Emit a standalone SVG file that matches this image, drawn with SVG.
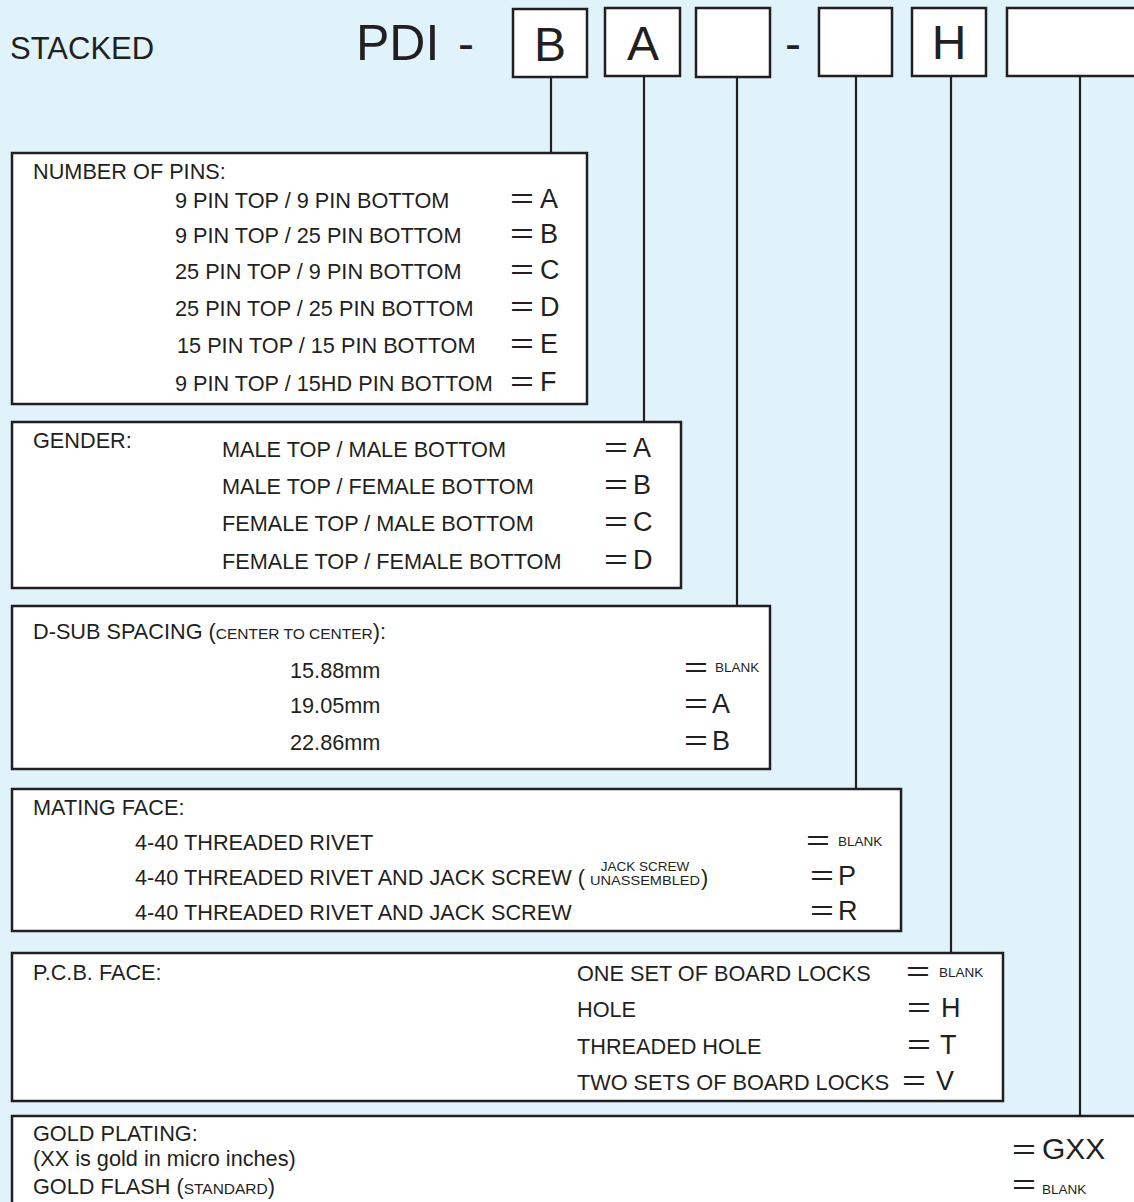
<svg xmlns="http://www.w3.org/2000/svg" width="1134" height="1202" viewBox="0 0 1134 1202">
<style>
  text { font-family: "Liberation Sans", Arial, sans-serif; fill: #231f20; }
  .t { font-size: 21.7px; }
  .big { font-size: 48px; }
  .v { font-size: 27px; }
  .eq { font-size: 27px; }
  .sm { font-size: 13.5px; }
  .sc { font-size: 15.5px; }
  .box { fill: #ffffff; stroke: #231f20; stroke-width: 2.5; }
  .ln { stroke: #231f20; stroke-width: 2.2; fill: none; }
</style>
<rect x="0" y="0" width="1134" height="1202" fill="#e0f2fa"/>

<g id="header">
  <text x="10" y="59" style="font-size:31px">STACKED</text>
  <text x="356" y="60" style="font-size:50px">PDI</text>
  <text x="458" y="60" class="big">-</text>
  <text x="785" y="60" class="big">-</text>
</g>
<g id="code-b"><rect class="box" x="513" y="9" width="74" height="68"/><text x="550" y="61" class="big" text-anchor="middle">B</text></g>
<g id="code-a"><rect class="box" x="605" y="8" width="75" height="68"/><text x="643" y="60" class="big" text-anchor="middle">A</text></g>
<g id="code-spacing"><rect class="box" x="696" y="8" width="74" height="69"/></g>
<g id="code-mating"><rect class="box" x="819" y="8" width="73" height="68"/></g>
<g id="code-h"><rect class="box" x="912" y="8" width="74" height="68"/><text x="949" y="59" class="big" text-anchor="middle">H</text></g>
<g id="code-gold"><rect class="box" x="1007" y="8" width="140" height="68"/></g>

<g id="connectors">
  <line class="ln" x1="551" y1="77" x2="551" y2="153"/>
  <line class="ln" x1="644" y1="76" x2="644" y2="422"/>
  <line class="ln" x1="737" y1="77" x2="737" y2="606"/>
  <line class="ln" x1="856" y1="76" x2="856" y2="789"/>
  <line class="ln" x1="951" y1="76" x2="951" y2="953"/>
  <line class="ln" x1="1080" y1="76" x2="1080" y2="1116"/>
</g>

<g id="pins">
  <rect class="box" x="12" y="153" width="575" height="251"/>
  <text x="33" y="179" class="t">NUMBER OF PINS:</text>
  <text x="175" y="208" class="t">9 PIN TOP / 9 PIN BOTTOM</text>
  <text x="175" y="243" class="t">9 PIN TOP / 25 PIN BOTTOM</text>
  <text x="175" y="279" class="t">25 PIN TOP / 9 PIN BOTTOM</text>
  <text x="175" y="316" class="t">25 PIN TOP / 25 PIN BOTTOM</text>
  <text x="177" y="353" class="t">15 PIN TOP / 15 PIN BOTTOM</text>
  <text x="175" y="391" class="t">9 PIN TOP / 15HD PIN BOTTOM</text>
  <text x="510" y="208" class="eq" textLength="24" lengthAdjust="spacingAndGlyphs">=</text><text x="540" y="208" class="v">A</text>
  <text x="510" y="243" class="eq" textLength="24" lengthAdjust="spacingAndGlyphs">=</text><text x="540" y="243" class="v">B</text>
  <text x="510" y="279" class="eq" textLength="24" lengthAdjust="spacingAndGlyphs">=</text><text x="540" y="279" class="v">C</text>
  <text x="510" y="316" class="eq" textLength="24" lengthAdjust="spacingAndGlyphs">=</text><text x="540" y="316" class="v">D</text>
  <text x="510" y="353" class="eq" textLength="24" lengthAdjust="spacingAndGlyphs">=</text><text x="540" y="353" class="v">E</text>
  <text x="510" y="391" class="eq" textLength="24" lengthAdjust="spacingAndGlyphs">=</text><text x="540" y="391" class="v">F</text>
</g>

<g id="gender">
  <rect class="box" x="12" y="422" width="669" height="166"/>
  <text x="33" y="448" class="t">GENDER:</text>
  <text x="222" y="457" class="t">MALE TOP / MALE BOTTOM</text>
  <text x="222" y="494" class="t">MALE TOP / FEMALE BOTTOM</text>
  <text x="222" y="531" class="t">FEMALE TOP / MALE BOTTOM</text>
  <text x="222" y="569" class="t">FEMALE TOP / FEMALE BOTTOM</text>
  <text x="604" y="457" class="eq" textLength="24" lengthAdjust="spacingAndGlyphs">=</text><text x="633" y="457" class="v">A</text>
  <text x="604" y="494" class="eq" textLength="24" lengthAdjust="spacingAndGlyphs">=</text><text x="633" y="494" class="v">B</text>
  <text x="604" y="531" class="eq" textLength="24" lengthAdjust="spacingAndGlyphs">=</text><text x="633" y="531" class="v">C</text>
  <text x="604" y="569" class="eq" textLength="24" lengthAdjust="spacingAndGlyphs">=</text><text x="633" y="569" class="v">D</text>
</g>

<g id="spacing">
  <rect class="box" x="12" y="606" width="758" height="163"/>
  <text x="33" y="639" class="t">D-SUB SPACING (<tspan class="sc">CENTER TO CENTER</tspan>):</text>
  <text x="290" y="678" class="t">15.88mm</text>
  <text x="290" y="713" class="t">19.05mm</text>
  <text x="290" y="750" class="t">22.86mm</text>
  <text x="684" y="677" class="eq" textLength="24" lengthAdjust="spacingAndGlyphs">=</text><text x="715" y="672" class="sm">BLANK</text>
  <text x="684" y="713" class="eq" textLength="24" lengthAdjust="spacingAndGlyphs">=</text><text x="712" y="713" class="v">A</text>
  <text x="684" y="750" class="eq" textLength="24" lengthAdjust="spacingAndGlyphs">=</text><text x="712" y="750" class="v">B</text>
</g>

<g id="mating">
  <rect class="box" x="12" y="789" width="889" height="142"/>
  <text x="33" y="815" class="t">MATING FACE:</text>
  <text x="135" y="850" class="t">4-40 THREADED RIVET</text>
  <text x="135" y="885" class="t">4-40 THREADED RIVET AND JACK SCREW (</text>
  <text x="645" y="871" class="sm" text-anchor="middle">JACK SCREW</text>
  <text x="645" y="885" class="sm" text-anchor="middle" textLength="110" lengthAdjust="spacingAndGlyphs">UNASSEMBLED</text>
  <text x="701" y="885" class="t">)</text>
  <text x="135" y="920" class="t">4-40 THREADED RIVET AND JACK SCREW</text>
  <text x="806" y="850" class="eq" textLength="24" lengthAdjust="spacingAndGlyphs">=</text><text x="838" y="846" class="sm">BLANK</text>
  <text x="810" y="885" class="eq" textLength="24" lengthAdjust="spacingAndGlyphs">=</text><text x="838" y="885" class="v">P</text>
  <text x="810" y="920" class="eq" textLength="24" lengthAdjust="spacingAndGlyphs">=</text><text x="838" y="920" class="v">R</text>
</g>

<g id="pcb">
  <rect class="box" x="12" y="953" width="991" height="148"/>
  <text x="33" y="980" class="t">P.C.B. FACE:</text>
  <text x="577" y="981" class="t">ONE SET OF BOARD LOCKS</text>
  <text x="577" y="1017" class="t">HOLE</text>
  <text x="577" y="1054" class="t">THREADED HOLE</text>
  <text x="577" y="1090" class="t">TWO SETS OF BOARD LOCKS</text>
  <text x="906" y="981" class="eq" textLength="24" lengthAdjust="spacingAndGlyphs">=</text><text x="939" y="977" class="sm">BLANK</text>
  <text x="907" y="1017" class="eq" textLength="24" lengthAdjust="spacingAndGlyphs">=</text><text x="941" y="1017" class="v">H</text>
  <text x="907" y="1054" class="eq" textLength="24" lengthAdjust="spacingAndGlyphs">=</text><text x="940" y="1054" class="v">T</text>
  <text x="902" y="1090" class="eq" textLength="24" lengthAdjust="spacingAndGlyphs">=</text><text x="936" y="1090" class="v">V</text>
</g>

<g id="gold">
  <rect class="box" x="12" y="1116" width="1140" height="100"/>
  <text x="33" y="1141" class="t">GOLD PLATING:</text>
  <text x="33" y="1166" class="t">(XX is gold in micro inches)</text>
  <text x="33" y="1194" class="t">GOLD FLASH (<tspan class="sc">STANDARD</tspan>)</text>
  <text x="1012" y="1159" class="eq" textLength="24" lengthAdjust="spacingAndGlyphs">=</text><text x="1042" y="1159" style="font-size:30px">GXX</text>
  <text x="1012" y="1194" class="eq" textLength="24" lengthAdjust="spacingAndGlyphs">=</text><text x="1042" y="1194" class="sm">BLANK</text>
</g>
</svg>
